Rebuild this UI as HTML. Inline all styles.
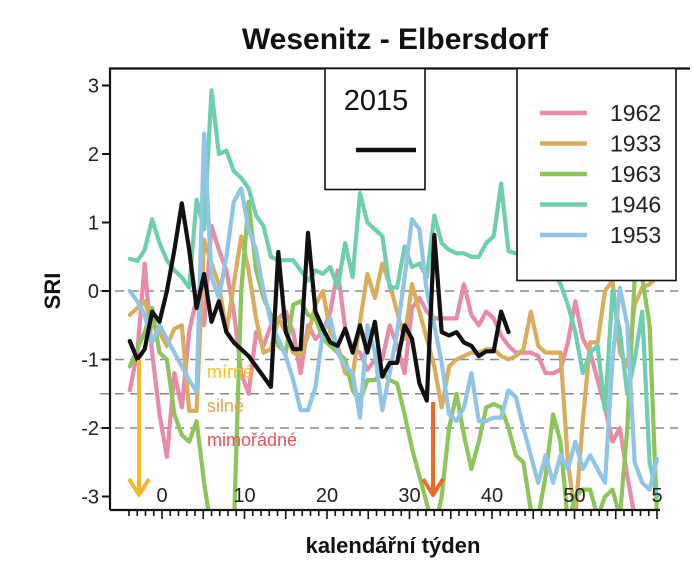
<!DOCTYPE html>
<html><head><meta charset="utf-8"><style>
html,body{margin:0;padding:0;background:#fff;}
svg{display:block;font-family:"Liberation Sans",Arial,sans-serif;}
</style></head><body>
<svg id="chart" width="693" height="569" viewBox="0 0 693 569">
<defs><clipPath id="plotclip"><rect x="111" y="69" width="570" height="441"/></clipPath></defs>
<text x="395" y="49" text-anchor="middle" font-size="30" font-weight="bold" fill="#111">Wesenitz - Elbersdorf</text>
<text x="393" y="553" text-anchor="middle" font-size="22" font-weight="bold" fill="#111">kalendářní týden</text>
<text transform="translate(60,291) rotate(-90)" text-anchor="middle" font-size="22" font-weight="bold" fill="#111">SRI</text>
<g id="grid"></g>
<g id="series" clip-path="url(#plotclip)"></g>
<g id="axes"></g>
<g id="annot"></g>
<g id="legends"></g>
</svg>
<script>
const yTicks = [3, 2, 1, 0, -1, -2, -3];
const thresholds = [0, -1, -1.5, -2];
const xTickLabels = ["0", "10", "20", "30", "40", "50", "5"];
const xTickWeeks = [0, 10, 20, 30, 40, 50, 60];
const years = ["1962", "1933", "1963", "1946", "1953"];
const colors = ["#e88aa9", "#d9ad5e", "#8dc55a", "#6fceb1", "#90c5e7"];
const s1962 = [-1.45,-0.9,0.4,-0.9,-1.8,-2.42,-1.2,-1.7,-0.6,-0.1,-0.5,0.95,0.6,0.3,-0.3,-1.2,-1.5,-0.6,-0.8,-0.5,-0.4,-0.3,-0.6,-1.2,-0.5,-0.7,-0.6,-0.3,0.3,-0.55,-0.85,-0.9,-1.15,-1.0,-1.0,-0.5,-0.8,-1.2,-0.25,-0.1,-0.3,-0.4,-0.4,-0.4,-0.4,0.1,-0.35,-0.5,-0.3,-0.4,-0.65,-0.8,-0.9,-0.9,-0.9,-0.95,-1.2,-1.2,-1.15,-0.75,-0.15,-0.7,-0.9,-1.3,-1.7,-2.2,-2.0,-2.7,-3.3];
const s1933 = [-0.35,-0.25,-0.15,-0.5,-0.6,-0.8,-0.55,-0.5,-1.75,-1.75,0.75,0.4,0.1,-0.6,0.1,0.8,0.3,-0.4,-0.9,-0.85,-0.4,-0.6,-0.9,-0.95,-0.65,-0.2,0.0,-0.6,-0.8,-1.2,-1.25,-0.45,0.25,-0.1,0.4,0.1,-0.3,-0.7,0.1,-0.3,-0.7,-1.1,-1.7,-1.1,-1.0,-0.95,-0.9,-0.9,-0.85,-0.85,-0.95,-1.0,-0.95,-0.85,-0.3,-0.8,-0.9,-0.9,-0.9,-2.5,-3.3,-1.9,-0.75,-0.75,0.0,0.15,-0.9,-1.1,-0.2,0.05,0.1,0.2];
const s1963 = [-1.1,-0.85,-0.6,-0.25,-0.9,-1.0,-1.8,-2.1,-2.2,-1.9,-2.8,-3.5,-3.5,-3.5,-3.5,0.0,1.3,0.3,-0.1,-0.35,-0.8,-0.9,-0.2,-0.15,-0.35,-0.4,-0.7,-0.8,-0.9,-1.0,-1.45,-1.6,-1.3,-1.3,-1.2,-1.3,-1.35,-1.8,-2.3,-2.7,-3.1,-3.5,-3.0,-2.0,-1.5,-2.1,-2.6,-2.2,-1.7,-1.65,-1.7,-2.0,-2.4,-2.5,-3.2,-3.3,-2.7,-1.8,-2.2,-3.4,-3.0,-2.9,-2.9,-3.3,-3.0,-2.9,-3.3,-2.0,0.2,0.2,-0.5,-3.3];
const s1946 = [0.47,0.44,0.6,1.05,0.7,0.45,0.3,0.2,0.05,1.33,0.9,2.93,2.0,2.05,1.75,1.65,1.5,1.1,0.95,0.5,0.45,0.45,0.45,0.3,0.15,0.3,0.25,0.35,0.05,0.7,0.2,1.43,1.0,0.9,0.8,0.05,0.05,0.65,0.35,0.4,0.2,1.1,0.7,0.6,0.55,0.55,0.5,0.5,0.7,0.8,1.57,0.58,0.55,0.6,0.6,0.55,0.5,0.3,0.1,-0.2,-0.6,-1.2,-0.9,-0.8,-1.75,0.0,-0.6,-1.5,-1.0,-0.3,-2.5,-3.0];
const s1953 = [0.0,-0.15,-0.35,-0.75,-0.5,-0.7,-0.9,-1.1,-1.3,-1.47,2.3,0.2,-0.1,0.5,1.3,1.5,0.9,0.6,0.0,-0.45,-0.7,-0.95,-1.3,-1.74,-1.74,-1.4,-0.6,-0.4,-0.9,-1.1,-1.2,-1.85,-0.5,-0.9,-1.74,-1.2,-0.6,0.2,1.05,0.9,0.0,-0.5,-1.05,-1.8,-1.9,-1.7,-1.2,-1.9,-1.9,-1.85,-1.85,-1.45,-1.55,-2.0,-2.4,-2.8,-2.4,-2.8,-2.4,-2.6,-2.2,-2.6,-2.4,-2.6,-2.8,-1.0,0.05,-0.5,-2.5,-2.8,-2.9,-2.45];
const s2015 = [-0.73,-1.0,-0.85,-0.3,-0.45,0.0,0.6,1.28,0.6,-0.25,0.25,-0.45,-0.15,-0.6,-0.75,-0.85,-0.95,-1.1,-1.25,-1.4,0.57,-0.6,-0.85,-0.85,0.85,-0.3,-0.55,-0.75,-0.8,-0.55,-0.9,-0.5,-0.9,-0.45,-1.25,-1.05,-1.05,-0.5,-0.7,-1.35,-1.6,0.82,-0.6,-0.65,-0.6,-0.75,-0.8,-0.95,-0.88,-0.88,-0.3,-0.6];
const seriesList = [s1962, s1933, s1963, s1946, s1953];
const weekStart = -3.9;
const weekStep = 0.9;

const NS = "http://www.w3.org/2000/svg";
function xScale(w){ return 162 + w * 8.25; }
function yScale(v){ return 291 - v * 68.5; }
function mk(tag, attrs, parent){ const e=document.createElementNS(NS,tag); for(const k in attrs) e.setAttribute(k,attrs[k]); parent.appendChild(e); return e; }

const grid=document.getElementById('grid');
thresholds.forEach(t=>{
  const l=mk('line',{x1:100,x2:678,y1:yScale(t),y2:yScale(t),stroke:'#8a8a8a','stroke-width':1.6,'stroke-dasharray':'9,6'},grid);
  
  
});

const sg=document.getElementById('series');
function drawSeries(vals,color,name){
  const pts=vals.map((v,i)=>xScale(weekStart+i*weekStep).toFixed(1)+','+yScale(v).toFixed(1)).join(' ');
  const p=mk('polyline',{points:pts,fill:'none',stroke:color,'stroke-width':4.2,'stroke-linejoin':'round','stroke-linecap':'round'},sg);
  
  
}
seriesList.forEach((s,k)=>drawSeries(s,colors[k],'series-'+years[k]));
drawSeries(s2015,'#111','series-2015');

const ax=document.getElementById('axes');
const frame=mk('path',{d:'M110,510 L110,68.5 L690,68.5',fill:'none',stroke:'#111','stroke-width':2.2},ax);


const xl=mk('line',{x1:110,x2:660,y1:510,y2:510,stroke:'#111','stroke-width':2.2},ax);


yTicks.forEach(t=>{
  mk('line',{x1:102,x2:110,y1:yScale(t),y2:yScale(t),stroke:'#111','stroke-width':2},ax);
  const tx=mk('text',{x:99,y:yScale(t)+7,'text-anchor':'end','font-size':20,fill:'#222'},ax);
  tx.textContent=t;
  
  
});
for(let w=-4; w<=60; w++){
  const x=xScale(w); if(x<125||x>660) continue;
  const major=(w%5===0);
  mk('line',{x1:x,x2:x,y1:510,y2:major?519:516,stroke:'#111','stroke-width':1.6},ax);
}
xTickWeeks.forEach((w,i)=>{
  const tx=mk('text',{x:xScale(w),y:502,'text-anchor':'middle','font-size':20,fill:'#222'},ax);
  tx.textContent=xTickLabels[i];
  
  
});

const an=document.getElementById('annot');
function arrow(x,y1,y2,color,name){
  const g=mk('g',{},an);
  
  
  mk('line',{x1:x,x2:x,y1:y1,y2:y2,stroke:color,'stroke-width':4},g);
  mk('polyline',{points:(x-10)+','+(y2-16)+' '+x+','+y2+' '+(x+10)+','+(y2-16),fill:'none',stroke:color,'stroke-width':4,'stroke-linejoin':'round'},g);
}
arrow(139,360,495,'#f4b82a','mild-drought-arrow');
arrow(433,402,495,'#ee6a24','extreme-drought-arrow');
[["mírné","#f1c21b",378,'label-mild'],["silné","#e8a34e",412,'label-strong'],["mimořádné","#e8525a",446,'label-extreme']].forEach(a=>{
  const t=mk('text',{x:207,y:a[2],'font-size':18,fill:a[1]},an);
  t.textContent=a[0];
  
  
});

const lg=document.getElementById('legends');
const b1=mk('rect',{x:325,y:68.5,width:100,height:121,fill:'#fff',stroke:'#111','stroke-width':1.6},lg);


const t1=mk('text',{x:376,y:110,'text-anchor':'middle','font-size':29,fill:'#111'},lg);
t1.textContent='2015';


mk('line',{x1:356,x2:416,y1:150,y2:150,stroke:'#111','stroke-width':4.5},lg);
const b2=mk('rect',{x:517,y:68.5,width:159,height:212,fill:'#fff',stroke:'#111','stroke-width':1.6},lg);


years.forEach((yr,i)=>{
  const y=113+i*30.5;
  const ln=mk('line',{x1:540,x2:587,y1:y,y2:y,stroke:colors[i],'stroke-width':4.5},lg);
  
  
  const t=mk('text',{x:610,y:y+8,'font-size':23,fill:'#222'},lg);
  t.textContent=yr;
  
  
});
</script>
</body></html>
